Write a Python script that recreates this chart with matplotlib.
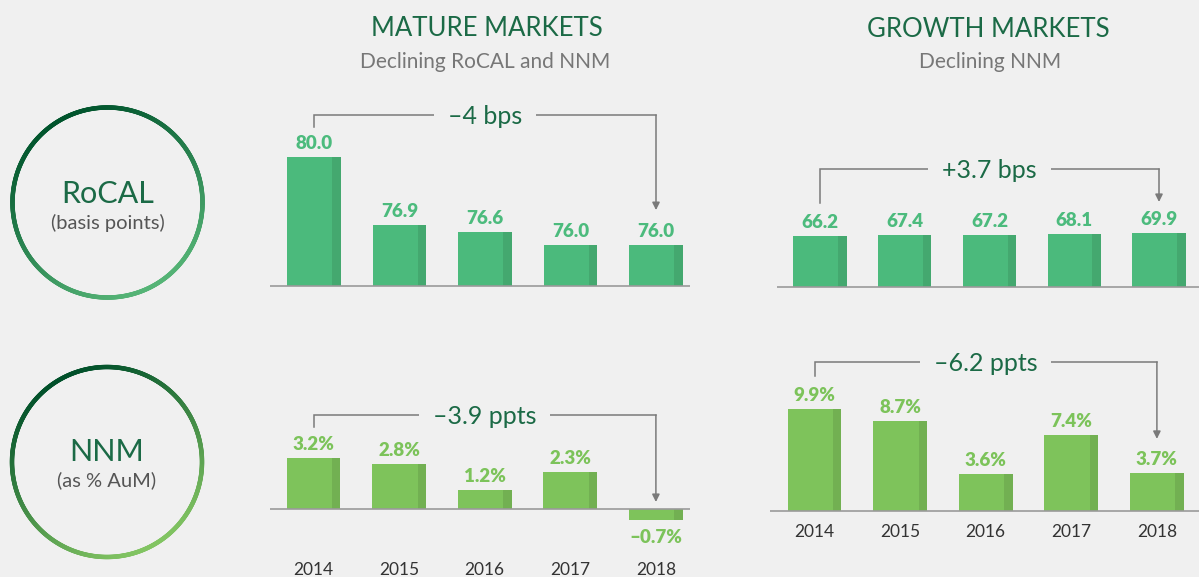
import numpy as np
import matplotlib.pyplot as plt
from matplotlib.collections import LineCollection
from matplotlib.colors import LinearSegmentedColormap

years = ["2014", "2015", "2016", "2017", "2018"]
mature_rocal = [80.0, 76.9, 76.6, 76.0, 76.0]
growth_rocal = [66.2, 67.4, 67.2, 68.1, 69.9]
mature_nnm = [3.2, 2.8, 1.2, 2.3, -0.7]
growth_nnm = [9.9, 8.7, 3.6, 7.4, 3.7]
changes = ["–4 bps", "+3.7 bps", "–3.9 ppts", "–6.2 ppts"]

W, H = 1199, 577
BG = "#f0f0f0"
DARK = "#1b6a46"
plt.rcParams["font.family"] = ["Lato", "DejaVu Sans"]

fig = plt.figure(figsize=(W / 100, H / 100), dpi=100, facecolor=BG)
ov = fig.add_axes([0, 0, 1, 1])
ov.set_xlim(0, W)
ov.set_ylim(H, 0)
ov.axis("off")


def fmt(v, pct):
    s = f"{abs(v):.1f}" + ("%" if pct else "")
    return "–" + s if v < 0 else s


def ring(cx, cy, r, c0, c1):
    t = np.linspace(0, 2 * np.pi, 721)
    pts = np.column_stack([cx + r * np.cos(t), cy + r * np.sin(t)]).reshape(-1, 1, 2)
    segs = np.concatenate([pts[:-1], pts[1:]], axis=1)
    tm = (t[:-1] + t[1:]) / 2
    d = np.array([0.45, 0.89])
    proj = (np.cos(tm) * d[0] + np.sin(tm) * d[1] + 1) / 2
    cmap = LinearSegmentedColormap.from_list("ring", [c0, c1])
    ov.add_collection(LineCollection(segs, colors=cmap(proj), linewidth=3.2,
                                     capstyle="round"))


def panel(vals, pct, box, base_px, c0, step, base, ppu, face, side, lab,
          br_y, stem_gap, tip_gap, change, year_gap=None):
    x0, x1, y0, y1 = box
    ax = fig.add_axes([x0 / W, 1 - y1 / H, (x1 - x0) / W, (y1 - y0) / H])
    ax.patch.set_alpha(0)
    ax.axis("off")
    ax.set_xlim((x0 - c0) / step, (x1 - c0) / step)
    ax.set_ylim(base - (y1 - base_px) / ppu, base + (base_px - y0) / ppu)
    px = 1.0 / ppu
    bw, sw = 0.63, 0.1
    xs = np.arange(len(vals))
    hts = [v - base for v in vals]
    ax.bar(xs, hts, bottom=base, width=bw, color=face, zorder=2)
    ax.bar(xs + bw / 2 - sw, hts, bottom=base, width=sw, align="edge",
           color=side, zorder=2)
    ax.axhline(base, color="#9a9a9a", lw=1.2, zorder=3)
    for x, v in zip(xs, vals):
        if v >= 0:
            ax.text(x, v + 8 * px, fmt(v, pct), ha="center", va="baseline",
                    fontsize=13.5, fontweight="heavy", color=lab)
        else:
            ax.text(x, v - 23 * px, fmt(v, pct), ha="center", va="baseline",
                    fontsize=13.5, fontweight="heavy", color=lab)
        if year_gap is not None:
            ax.text(x, base - year_gap * px, years[x], ha="center",
                    va="baseline", fontsize=12.5, color="#333333")
    # bracket from first to last year
    yb = base + (base_px - br_y) * px
    y_stem = vals[0] + stem_gap * px
    y_tip = max(vals[-1], base) + tip_gap * px
    gc = "#7a7a7a"
    ax.plot([0, 0, xs[-1]], [y_stem, yb, yb], color=gc, lw=1.1,
            clip_on=False, zorder=1, solid_joinstyle="miter")
    ax.annotate("", xy=(xs[-1], y_tip), xytext=(xs[-1], yb),
                arrowprops=dict(arrowstyle="-|>", color=gc, lw=1.1,
                                mutation_scale=11, shrinkA=0, shrinkB=0),
                annotation_clip=False)
    ax.text(xs[-1] / 2, yb - 9 * px, change, ha="center", va="baseline",
            fontsize=18, color=DARK, zorder=4,
            bbox=dict(boxstyle="square,pad=0.55", fc=BG, ec="none"))
    return ax


top_face, top_side, top_lab = "#4bba7c", "#44a86f", "#4cbb7d"
bot_face, bot_side, bot_lab = "#7ec35b", "#72b052", "#7cc35a"

panel(mature_rocal, False, (270, 690, 85, 300), 286, 314, 85.5, 74.14, 22.0,
      top_face, top_side, top_lab, 115, 30, 35, changes[0])
panel(growth_rocal, False, (777, 1199, 140, 300), 287, 820, 84.75, 0.0, 0.773,
      top_face, top_side, top_lab, 169, 33, 31, changes[1])
panel(mature_nnm, True, (270, 690, 390, 577), 509, 313.5, 85.6, 0.0, 16.0,
      bot_face, bot_side, bot_lab, 415, 31, 7, changes[2], year_gap=66)
panel(growth_nnm, True, (770, 1199, 340, 577), 511, 814.5, 85.6, 0.0, 10.3,
      bot_face, bot_side, bot_lab, 362, 33, 34, changes[3], year_gap=26)

# row labels in gradient rings
ring(107.5, 202.5, 95, "#00542c", "#55b476")
ring(107.0, 462.0, 95, "#00502a", "#82c462")
ov.text(107.5, 203, "RoCAL", ha="center", va="baseline", fontsize=22, color=DARK)
ov.text(107.5, 229, "(basis points)", ha="center", va="baseline", fontsize=14.5,
        color="#555555")
ov.text(107, 461, "NNM", ha="center", va="baseline", fontsize=22, color=DARK)
ov.text(107, 486, "(as % AuM)", ha="center", va="baseline", fontsize=14.5,
        color="#555555")

# column headers
ov.text(487, 36, "MATURE MARKETS", ha="center", va="baseline", fontsize=18.5,
        color=DARK)
ov.text(485, 68, "Declining RoCAL and NNM", ha="center", va="baseline",
        fontsize=15, color="#777777")
ov.text(988, 37, "GROWTH MARKETS", ha="center", va="baseline", fontsize=18.5,
        color=DARK)
ov.text(990, 68, "Declining NNM", ha="center", va="baseline", fontsize=15,
        color="#777777")

fig.savefig("out.png", dpi=100, facecolor=BG)
